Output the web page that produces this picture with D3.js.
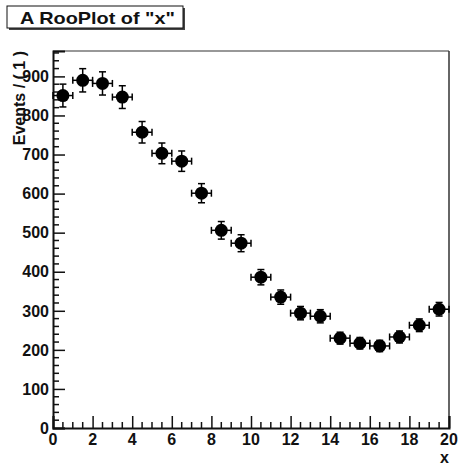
<!DOCTYPE html>
<html><head><meta charset="utf-8">
<script src="https://cdn.jsdelivr.net/npm/d3@7"></script>
<style>body{margin:0;background:#fff}svg{display:block}text{font-family:"Liberation Sans",Arial,sans-serif;font-weight:bold;fill:#111}</style>
</head><body>
<script>
const xCenters = [0.5,1.5,2.5,3.5,4.5,5.5,6.5,7.5,8.5,9.5,10.5,11.5,12.5,13.5,14.5,15.5,16.5,17.5,18.5,19.5];
const events = [851,890,882,847,757,703,683,601,506,473,386,335,294,286,230,217,210,233,263,304];
const errors = [29.2,29.8,29.7,29.1,27.5,26.5,26.1,24.5,22.5,21.7,19.6,18.3,17.1,16.9,15.2,14.7,14.5,15.3,16.2,17.4];
const binHalfWidth = 0.5;
const yTicks = [0,100,200,300,400,500,600,700,800,900];
const xTicks = [0,2,4,6,8,10,12,14,16,18,20];
const titleText = 'A RooPlot of "x"';
const yTitle = 'Events / ( 1 )';
const xTitle = 'x';

const W=458,H=466;
const L=53,R=449,T=51,B=428;
const svg=d3.select('body').append('svg').attr('width',W).attr('height',H);
const x=d3.scaleLinear().domain([0,20]).range([L,R]);
const y=d3.scaleLinear().domain([0,965]).range([B,T]);

// frame
svg.append('line').attr('x1',L).attr('x2',R).attr('y1',T).attr('y2',T).attr('stroke','#333').attr('stroke-width',1.2);
svg.append('line').attr('x1',R).attr('x2',R).attr('y1',T).attr('y2',B).attr('stroke','#333').attr('stroke-width',1.5);

// y axis
const yAxis=d3.axisRight(y).tickValues(yTicks).tickSize(12).tickFormat('');
const gy=svg.append('g').attr('transform',`translate(${L},0)`).call(yAxis);
gy.select('.domain').attr('stroke','#111').attr('stroke-width',2);
gy.selectAll('.tick line').attr('stroke','#111').attr('stroke-width',1.5);
const yMinor=d3.range(0,961,20).filter(v=>v%100!==0);
svg.append('g').selectAll('line').data(yMinor).join('line')
  .attr('x1',L).attr('x2',L+6).attr('y1',d=>y(d)).attr('y2',d=>y(d)).attr('stroke','#111').attr('stroke-width',1.5);
svg.append('g').selectAll('text').data(yTicks).join('text')
  .attr('x',L-4).attr('y',d=>y(d)).attr('dy','0.36em').attr('text-anchor','end')
  .attr('font-size',16).text(d=>d);

// x axis
const xAxis=d3.axisTop(x).tickValues(xTicks).tickSize(12).tickFormat('');
const gx=svg.append('g').attr('transform',`translate(0,${B})`).call(xAxis);
gx.select('.domain').attr('stroke','#111').attr('stroke-width',2);
gx.selectAll('.tick line').attr('stroke','#111').attr('stroke-width',1.5);
const xMinor=d3.range(0,20.01,0.5).filter(v=>v%2!==0);
svg.append('g').selectAll('line').data(xMinor).join('line')
  .attr('x1',d=>x(d)).attr('x2',d=>x(d)).attr('y1',B).attr('y2',B-6).attr('stroke','#111').attr('stroke-width',1.5);
svg.append('g').selectAll('text').data(xTicks).join('text')
  .attr('x',d=>x(d)).attr('y',B+17).attr('text-anchor','middle')
  .attr('font-size',16).text(d=>d);

// titles
svg.append('text').attr('x',R).attr('y',H-3).attr('text-anchor','end').attr('font-size',16).text(xTitle);
svg.append('text').attr('transform',`translate(25,${T}) rotate(-90)`).attr('text-anchor','end').attr('font-size',16).text(yTitle);

// data
const g=svg.append('g');
const pts=events.map((v,i)=>({x:xCenters[i],v,e:errors[i]}));
const cap=3.5;
pts.forEach(p=>{
  const cx=x(p.x), cy=y(p.v);
  g.append('line').attr('x1',x(p.x-binHalfWidth)).attr('x2',x(p.x+binHalfWidth)).attr('y1',cy).attr('y2',cy).attr('stroke','#000').attr('stroke-width',1.5);
  g.append('line').attr('x1',x(p.x-binHalfWidth)).attr('x2',x(p.x-binHalfWidth)).attr('y1',cy-cap).attr('y2',cy+cap).attr('stroke','#000').attr('stroke-width',1.5);
  g.append('line').attr('x1',x(p.x+binHalfWidth)).attr('x2',x(p.x+binHalfWidth)).attr('y1',cy-cap).attr('y2',cy+cap).attr('stroke','#000').attr('stroke-width',1.5);
  g.append('line').attr('x1',cx).attr('x2',cx).attr('y1',y(p.v-p.e)).attr('y2',y(p.v+p.e)).attr('stroke','#000').attr('stroke-width',1.5);
  g.append('line').attr('x1',cx-cap).attr('x2',cx+cap).attr('y1',y(p.v-p.e)).attr('y2',y(p.v-p.e)).attr('stroke','#000').attr('stroke-width',1.5);
  g.append('line').attr('x1',cx-cap).attr('x2',cx+cap).attr('y1',y(p.v+p.e)).attr('y2',y(p.v+p.e)).attr('stroke','#000').attr('stroke-width',1.5);
  g.append('circle').attr('cx',cx).attr('cy',cy).attr('r',6.5).attr('fill','#000');
});

// title box
svg.append('rect').attr('x',9).attr('y',8).attr('width',176).attr('height',22).attr('fill','#444');
svg.append('rect').attr('x',7).attr('y',6).attr('width',176).attr('height',22).attr('fill','#fff').attr('stroke','#111').attr('stroke-width',1);
svg.append('text').attr('x',20).attr('y',24).attr('font-size',17).attr('textLength',155).attr('lengthAdjust','spacingAndGlyphs').text(titleText);
</script>
</body></html>
